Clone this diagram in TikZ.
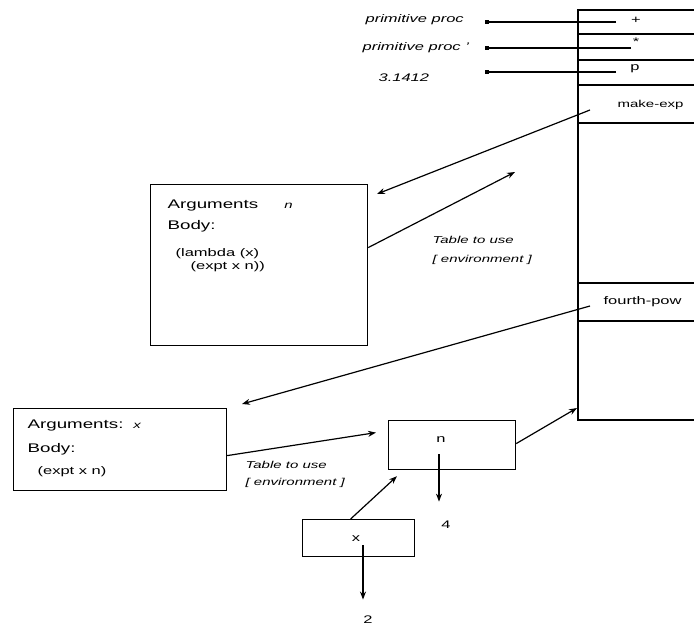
\documentclass[tikz,border=0pt]{standalone}
\usepackage{fontspec}
\setmainfont[FakeStretch=1.5]{Liberation Sans}
\usetikzlibrary{arrows.meta, positioning}

\begin{document}
\begin{tikzpicture}[x=1pt, y=-1pt, line width=1.2pt,
    ptr/.style={-{Stealth[length=8pt,width=6pt]}},
    valptr/.style={-{Rectangle[length=4pt,width=3.5pt]}},
    lbl/.style={font=\fontsize{11}{13}\selectfont, inner sep=0pt},
    note/.style={font=\fontsize{10}{12}\selectfont\itshape, inner sep=0pt, anchor=west},
    txt/.style={font=\fontsize{12.5}{15}\selectfont, inner sep=0pt, anchor=west},
    frame/.style={draw, rectangle, inner sep=0pt, anchor=north west}]
    \useasboundingbox (0,0) rectangle (694,628);
    \clip (0,0) rectangle (694,628);
    % global environment
    \draw (700,10) -- (578,10) -- (578,420) -- (700,420);
    \foreach \y in {34,60,85,123,283,321} {
        \draw (578,\y) -- (700,\y);
    }
    \node[lbl] (plus) at (636,20) {+};
    \node[lbl] (times) at (636,42) {*};
    \node[lbl] (pisym) at (635,69) {p};
    \node[lbl, font=\fontsize{10}{12}\selectfont, anchor=west] (mkexp) at (617,105) {make-exp};
    \node[lbl, anchor=west] (fpow) at (603,302) {fourth-pow};
    \node[note, font=\fontsize{11}{13}\selectfont\itshape] (prim1) at (365,20) {primitive proc};
    \node[note, font=\fontsize{11}{13}\selectfont\itshape] (prim2) at (362,48) {primitive proc '};
    \node[note, font=\fontsize{11}{13}\selectfont\itshape] (pival) at (378,78) {3.1412};
    \coordinate (plusref) at (616,22);
    \coordinate (timesref) at (631,48);
    \coordinate (piref) at (616,72);
    \draw[valptr] (plusref) -- (plusref -| 485,0);
    \draw[valptr] (timesref) -- (timesref -| 485,0);
    \draw[valptr] (piref) -- (piref -| 485,0);

    % procedure make-exp
    \node[frame, minimum width=217pt, minimum height=161pt] (proc1) at (150,184) {};
    \node[txt] (args1) at (167,205) {Arguments\hspace{26pt}\fontsize{10}{12}\selectfont\itshape n};
    \node[txt] (body1) at (167,226) {Body:};
    \node[txt, font=\fontsize{11}{13}\selectfont, align=left] (code1) at (175,260)
        {(lambda (x)\\\hspace{15pt}(expt x n))};
    \coordinate (mkref) at (590,110);
    \coordinate (proc1in) at (377,194);
    \coordinate (env1) at (515,172);
    \draw[ptr] (mkref) -- (proc1in);
    \draw[ptr] ([yshift=17.5pt]proc1.east) -- (env1);
    \node[note] (tbl1) at (432,240) {Table to use};
    \node[note] (envtxt1) at (432,260) {[ environment ]};

    % frames
    \node[frame, minimum width=127pt, minimum height=49pt] (fr1) at (388,420) {};
    \node[lbl] (nvar) at (441,440) {n};
    \node[lbl] (four) at (446,525) {4};
    \draw[ptr] (439,454) -- ([yshift=19pt]four.north -| 439,0);
    \draw[ptr] ([yshift=1.5pt]fr1.east) -- (577,408);
    \node[frame, minimum width=112pt, minimum height=37pt] (fr2) at (302,519) {};
    \node[lbl] (xvar) at (356,539) {x};
    \node[lbl] (two) at (368,620) {2};
    \draw[ptr] (363,545) -- ([yshift=16pt]two.north -| 363,0);
    \draw[ptr] ([xshift=-8pt]fr2.north) -- ([xshift=9pt,yshift=-6pt]fr1.south west);

    % procedure fourth-pow
    \node[frame, minimum width=213pt, minimum height=82pt] (proc2) at (13,408) {};
    \node[txt] (args2) at (27,425) {Arguments:\hspace{10pt}\fontsize{10}{12}\selectfont\itshape x};
    \node[txt] (body2) at (27,449) {Body:};
    \node[txt, font=\fontsize{11}{13}\selectfont] (code2) at (37,472) {(expt x n)};
    \coordinate (fpref) at (590,306);
    \coordinate (proc2in) at (242,404);
    \draw[ptr] (fpref) -- (proc2in);
    \draw[ptr] ([yshift=-6pt]proc2.east) -- ([xshift=-12pt,yshift=12.5pt]fr1.west);
    \node[note] (tbl2) at (245,465) {Table to use};
    \node[note] (envtxt2) at (245,483) {[ environment ]};
\end{tikzpicture}
\end{document}
